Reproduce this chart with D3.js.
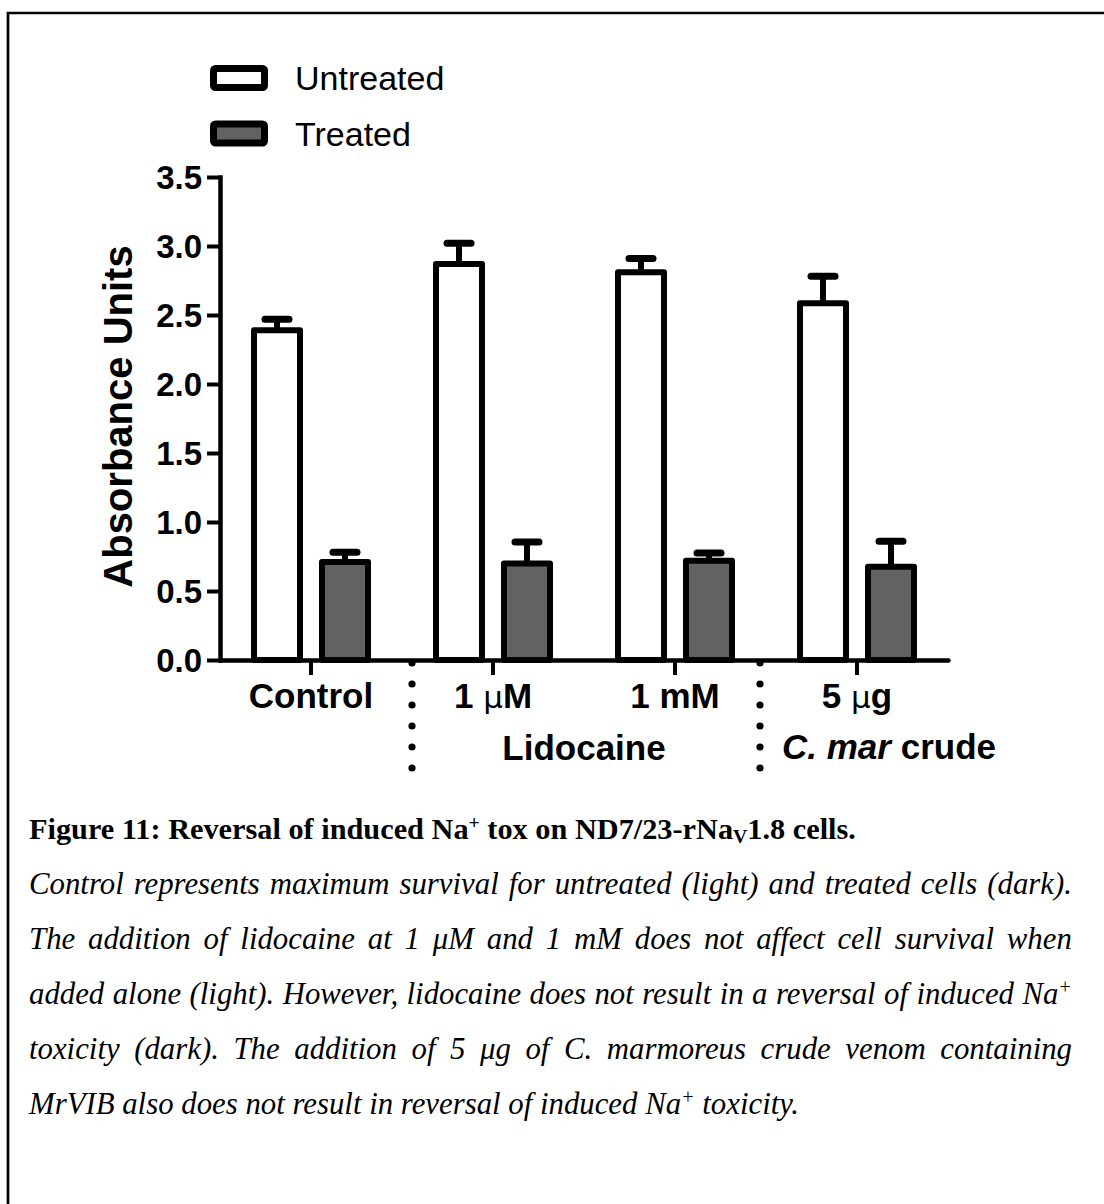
<!DOCTYPE html>
<html>
<head>
<meta charset="utf-8">
<script src="https://cdn.jsdelivr.net/npm/d3@7"></script>
<style>
  body { margin: 0; background: #fff; width: 1104px; height: 1204px; overflow: hidden; position: relative; }
  svg { position: absolute; left: 0; top: 0; }
  #caption { position: absolute; left: 29px; top: 802px; width: 1043px;
    font-family: "Liberation Serif", "Times New Roman", serif; font-size: 30.8px; line-height: 55px; color: #000; }
  #caption .title { font-weight: bold; white-space: nowrap; font-size: 30.3px; }
  #caption .line { font-style: italic; display: flex; justify-content: space-between; white-space: nowrap; }
  #caption .last { font-style: italic; white-space: nowrap; }
  #caption sup { font-size: 0.65em; line-height: 0; vertical-align: 0.5em; }
  #caption sub { font-size: 0.65em; line-height: 0; vertical-align: -0.2em; }
</style>
</head>
<body>
<div id="caption"></div>
<script>
// Group categories (x axis) and the two series of absorbance readings
const categories = ["Control", "1 µM", "1 mM", "5 µg"];
const seriesNames = ["Untreated", "Treated"];
const untreated = [2.39, 2.87, 2.81, 2.585];
const untreatedErr = [0.08, 0.15, 0.10, 0.195];
const treated = [0.71, 0.70, 0.72, 0.675];
const treatedErr = [0.07, 0.155, 0.055, 0.185];
const seriesFill = ["#ffffff", "#626262"];
const yTicks = [0, 0.5, 1.0, 1.5, 2.0, 2.5, 3.0, 3.5];
const yTitle = "Absorbance Units";

// Caption lines (justified paragraph, last line left-aligned)
const captionTitle = 'Figure 11: Reversal of induced Na<sup>+</sup> tox on ND7/23-rNa<sub>V</sub>1.8 cells.';
const captionLines = [
  "Control represents maximum survival for untreated (light) and treated cells (dark).",
  "The addition of lidocaine at 1 μM and 1 mM does not affect cell survival when",
  "added alone (light). However, lidocaine does not result in a reversal of induced Na<sup>+</sup>",
  "toxicity (dark). The addition of 5 μg of C. marmoreus crude venom containing"
];
const captionLast = "MrVIB also does not result in reversal of induced Na<sup>+</sup> toxicity.";

const W = 1104, H = 1204;
const svg = d3.select("body").append("svg").attr("width", W).attr("height", H);

// page frame (top and left rules)
svg.append("path").attr("d", `M8,${H} V13 H${W}`)
  .attr("fill", "none").attr("stroke", "#000").attr("stroke-width", 2.7);

const y = d3.scaleLinear().domain([0, 3.5]).range([660, 177]);
const x0 = d3.scaleBand().domain(categories).range([220, 948]);
const x1 = d3.scaleBand().domain(seriesNames).range([0, x0.bandwidth()])
  .paddingInner(0.3235).paddingOuter(0.5);

const FONT = "'Liberation Sans', Arial, sans-serif";

const rows = categories.map((c, i) => [
  { cat: c, s: "Untreated", v: untreated[i], e: untreatedErr[i], fill: seriesFill[0] },
  { cat: c, s: "Treated", v: treated[i], e: treatedErr[i], fill: seriesFill[1] }
]).flat();

// error bars (upper only)
const err = svg.append("g").attr("stroke", "#000").attr("stroke-linecap", "round");
err.selectAll("line.stem").data(rows).join("line").attr("class", "stem")
  .attr("x1", d => x0(d.cat) + x1(d.s) + x1.bandwidth() / 2)
  .attr("x2", d => x0(d.cat) + x1(d.s) + x1.bandwidth() / 2)
  .attr("y1", d => y(d.v)).attr("y2", d => y(d.v + d.e))
  .attr("stroke-width", 6).attr("stroke-linecap", "butt");
err.selectAll("line.cap").data(rows).join("line").attr("class", "cap")
  .attr("x1", d => x0(d.cat) + x1(d.s) + x1.bandwidth() / 2 - 12)
  .attr("x2", d => x0(d.cat) + x1(d.s) + x1.bandwidth() / 2 + 12)
  .attr("y1", d => y(d.v + d.e)).attr("y2", d => y(d.v + d.e))
  .attr("stroke-width", 7);

// bars
svg.append("g").selectAll("rect").data(rows).join("rect")
  .attr("x", d => x0(d.cat) + x1(d.s))
  .attr("y", d => y(d.v))
  .attr("width", x1.bandwidth())
  .attr("height", d => y(0) - y(d.v))
  .attr("fill", d => d.fill)
  .attr("stroke", "#000").attr("stroke-width", 6).attr("stroke-linejoin", "round");

// y axis
const yAxis = svg.append("g").attr("transform", "translate(220,0)")
  .call(d3.axisLeft(y).tickValues(yTicks).tickFormat(d3.format(".1f"))
    .tickSize(13).tickSizeOuter(0).tickPadding(5));
yAxis.select(".domain").attr("stroke-width", 4.5).attr("stroke-linecap", "square");
yAxis.selectAll(".tick line").attr("stroke-width", 4);
yAxis.selectAll(".tick text").attr("font-family", FONT).attr("font-size", 33)
  .attr("font-weight", "bold").attr("fill", "#000").attr("dy", "0.36em");

// x axis
const xAxis = svg.append("g").attr("transform", "translate(0,660)")
  .call(d3.axisBottom(x0).tickSize(15).tickSizeOuter(0).tickFormat(""));
xAxis.select(".domain").attr("stroke-width", 4.5).attr("stroke-linecap", "round");
xAxis.selectAll(".tick line").attr("stroke-width", 4);

// category labels (µ drawn in regular weight)
const catLab = svg.append("g").attr("font-family", FONT).attr("font-size", 35)
  .attr("font-weight", "bold").attr("text-anchor", "middle");
categories.forEach(c => {
  const t = catLab.append("text").attr("x", x0(c) + x0.bandwidth() / 2).attr("y", 708);
  const parts = c.split("µ");
  if (parts.length === 1) { t.text(c); return; }
  t.append("tspan").text(parts[0]);
  t.append("tspan").attr("font-weight", "normal").attr("font-family", "'DejaVu Sans', sans-serif").attr("font-size", 31).text("µ");
  t.append("tspan").text(parts[1]);
});

// group dividers (dotted)
const dividers = [x0(categories[1]) + 10, x0(categories[3]) - 6];
const dotRows = d3.range(6);
dividers.forEach(dx => {
  svg.append("g").selectAll("circle").data(dotRows).join("circle")
    .attr("cx", dx).attr("cy", i => 663 + i * 21).attr("r", 3.6).attr("fill", "#000");
});

// group titles
svg.append("text").attr("font-family", FONT).attr("font-size", 35).attr("font-weight", "bold")
  .attr("text-anchor", "middle")
  .attr("x", (x0(categories[1]) + x0(categories[2]) + x0.bandwidth()) / 2).attr("y", 760)
  .text("Lidocaine");
const cmar = svg.append("text").attr("font-family", FONT).attr("font-size", 35).attr("font-weight", "bold")
  .attr("x", dividers[1] + 22).attr("y", 759);
cmar.append("tspan").attr("font-style", "italic").text("C. mar");
cmar.append("tspan").text(" crude");

// y axis title
svg.append("text").attr("font-family", FONT).attr("font-size", 40).attr("font-weight", "bold")
  .attr("text-anchor", "middle")
  .attr("transform", `translate(132,${(y(0) + y(3.5)) / 2 - 2}) rotate(-90)`)
  .text(yTitle);

// legend
const legend = svg.append("g");
seriesNames.forEach((s, i) => {
  const gy = 68.5 + i * 55.5;
  legend.append("rect").attr("x", 213.5).attr("y", gy).attr("width", 51).attr("height", 19)
    .attr("fill", seriesFill[i]).attr("stroke", "#000").attr("stroke-width", 7).attr("rx", 2);
  legend.append("text").attr("x", 295).attr("y", gy + 21.5).attr("font-family", FONT)
    .attr("font-size", 34).attr("fill", "#000").text(s);
});

// caption
const cap = d3.select("#caption");
cap.append("div").attr("class", "title").html(captionTitle);
captionLines.forEach(l => {
  const row = cap.append("div").attr("class", "line");
  l.split(/ +/).forEach(w => row.append("span").html(w));
});
cap.append("div").attr("class", "last").html(captionLast);
</script>
</body>
</html>
